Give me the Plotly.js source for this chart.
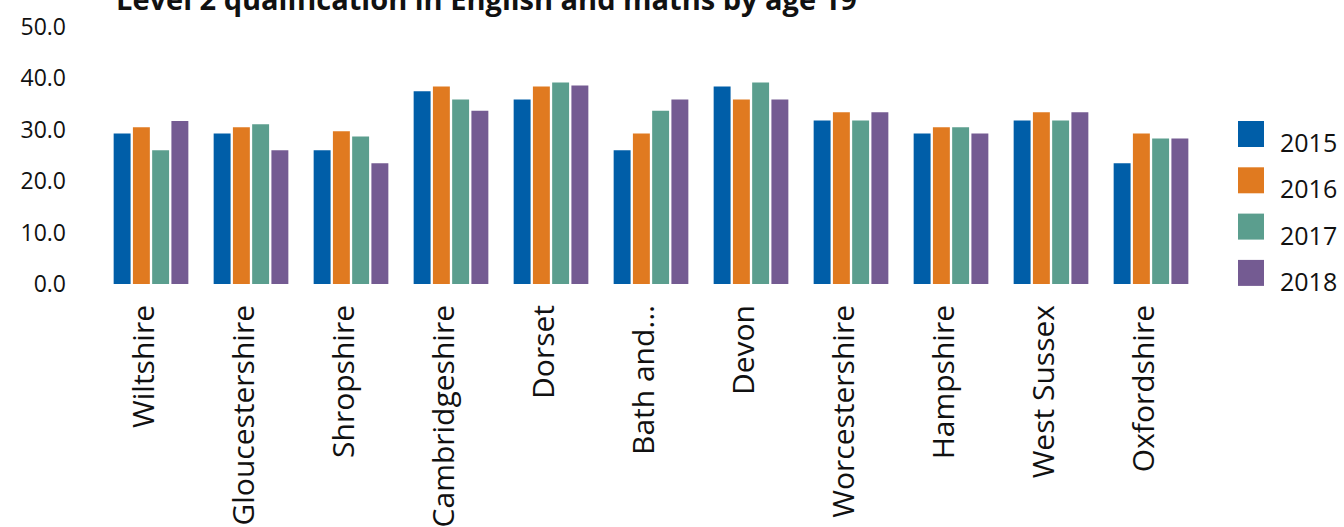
<!DOCTYPE html>
<html>
<head>
<meta charset="utf-8">
<script src="https://cdn.plot.ly/plotly-3.0.1.min.js"></script>
<style>
  html, body { margin: 0; padding: 0; background: #ffffff; overflow: hidden; }
  #chart { width: 1344px; height: 527px; }
</style>
</head>
<body>
<div id="chart"></div>
<script>
// Local authorities shown on the category axis
const areas = ['Wiltshire', 'Gloucestershire', 'Shropshire', 'Cambridgeshire', 'Dorset',
  'Bath and...', 'Devon', 'Worcestershire', 'Hampshire', 'West Sussex', 'Oxfordshire'];

// One series per year (percentage with a Level 2 qualification by age 19)
const years = ['2015', '2016', '2017', '2018'];
const values2015 = [29.3, 29.3, 26.0, 37.5, 35.9, 26.0, 38.4, 31.8, 29.3, 31.8, 23.5];
const values2016 = [30.5, 30.5, 29.7, 38.4, 38.4, 29.3, 35.9, 33.4, 30.5, 33.4, 29.3];
const values2017 = [26.0, 31.1, 28.7, 35.9, 39.2, 33.7, 39.2, 31.8, 30.5, 31.8, 28.3];
const values2018 = [31.7, 26.0, 23.5, 33.7, 38.6, 35.9, 35.9, 33.4, 29.3, 33.4, 28.3];
const seriesValues = [values2015, values2016, values2017, values2018];
const seriesColors = ['#005ea8', '#e07a20', '#5b9e8e', '#745b92'];

const yTicks = [0, 10, 20, 30, 40, 50];
const yTickText = ['0.0', '10.0', '20.0', '30.0', '40.0', '50.0'];

const FONT = '"Open Sans", "Noto Sans", sans-serif';

const traces = years.map((yr, i) => ({
  type: 'bar',
  name: yr,
  x: areas,
  y: seriesValues[i],
  marker: { color: seriesColors[i], line: { width: 0 } },
  showlegend: false,
  hoverinfo: 'x+y+name'
}));

// Legend drawn with large square swatches beside the plot
const shapes = [];
const annotations = [];
years.forEach((yr, i) => {
  const top = 121 + i * 46.3;
  shapes.push({
    type: 'rect', xref: 'paper', yref: 'paper',
    x0: (1238 - 101) / 1100, x1: (1264 - 101) / 1100,
    y0: (284 - top) / 257, y1: (284 - top - 26) / 257,
    fillcolor: seriesColors[i], line: { width: 0 }
  });
  annotations.push({
    xref: 'paper', yref: 'paper',
    x: (1278 - 101) / 1100, y: (284 - top - 21) / 257,
    xanchor: 'left', yanchor: 'middle',
    text: yr, showarrow: false,
    font: { family: FONT, size: 25, color: '#111111' }
  });
});

const layout = {
  width: 1344,
  height: 527,
  paper_bgcolor: '#ffffff',
  plot_bgcolor: '#ffffff',
  margin: { l: 101, r: 143, t: 27, b: 243, pad: 0 },
  title: {
    text: '<b>Level 2 qualification in English and maths by age 19</b>',
    xref: 'container', yref: 'container',
    x: 116 / 1344, xanchor: 'left',
    y: 1, yanchor: 'middle',
    font: { family: FONT, size: 29, color: '#111111' }
  },
  barmode: 'group',
  bargap: 0.23,
  bargroupgap: 0.12,
  xaxis: {
    type: 'category',
    tickangle: -90,
    showgrid: false,
    zeroline: false,
    showline: false,
    ticks: '',
    ticklabelstandoff: 14,
    ticklabelshift: -7,
    automargin: false,
    tickfont: { family: FONT, size: 30, color: '#111111' }
  },
  yaxis: {
    range: [0, 50],
    tickvals: yTicks,
    ticktext: yTickText,
    showgrid: false,
    zeroline: false,
    showline: false,
    ticks: '',
    ticklabelstandoff: 34,
    automargin: false,
    tickfont: { family: FONT, size: 23, color: '#111111' }
  },
  shapes: shapes,
  annotations: annotations,
  showlegend: false
};

Plotly.newPlot('chart', traces, layout, { displayModeBar: false, staticPlot: true });
</script>
</body>
</html>
